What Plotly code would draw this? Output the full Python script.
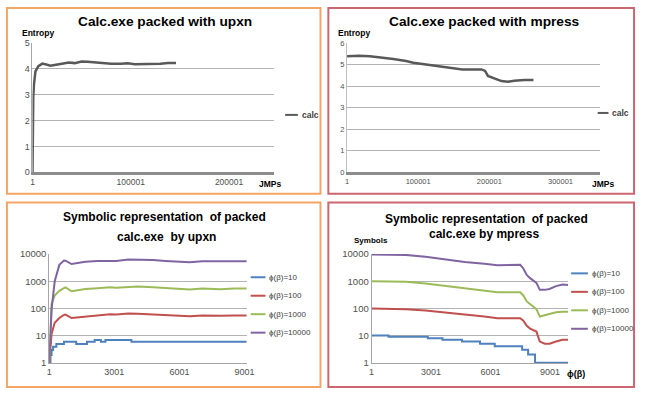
import plotly.graph_objects as go

# ---------------- data ----------------
# Panel 1: Calc.exe packed with upxn (entropy vs JMPs)
upxn_jmp = [1, 300, 800, 1500, 3000, 6000, 10000, 14000, 18000, 24000, 30000, 37000,
            43000, 50000, 56000, 63000, 72000, 80000, 90000, 97000, 104000, 110000,
            120000, 130000, 138000, 146000]
upxn_entropy = [0, 2.0, 2.9, 3.4, 3.9, 4.1, 4.2, 4.17, 4.12, 4.16, 4.2, 4.24,
                4.22, 4.28, 4.27, 4.25, 4.22, 4.2, 4.2, 4.21, 4.18, 4.18,
                4.19, 4.2, 4.22, 4.22]

# Panel 2: Calc.exe packed with mpress
mpress_jmp = [1, 17000, 32000, 46000, 65000, 83000, 93000, 111000, 134000, 162000,
              189000, 194000, 198000, 207000, 217000, 226000, 235000, 249000, 262000]
mpress_entropy = [5.38, 5.4, 5.38, 5.33, 5.26, 5.16, 5.08, 5.0, 4.91, 4.77,
                  4.77, 4.7, 4.47, 4.35, 4.23, 4.2, 4.25, 4.28, 4.28]

# Panel 3: symbolic representation, upxn
sym_up_x = [1, 60, 113, 255, 467, 680, 750, 1033, 1387, 1670, 2236, 2802, 3085,
            3651, 4076, 4783, 5349, 5915, 6481, 7047, 7896, 8533, 9100]
up_phi10000 = [1, 30, 100, 1000, 4000, 5800, 5700, 4300, 4800, 5200, 5600, 5800, 5600,
               6300, 6300, 6000, 5600, 5200, 5000, 5400, 5300, 5500, 5500]
up_phi1000 = [1, 20, 150, 300, 450, 560, 600, 430, 480, 520, 560, 600, 580,
              630, 640, 600, 560, 520, 500, 550, 510, 540, 550]
up_phi100 = [1, 5, 12, 30, 45, 58, 60, 45, 48, 52, 58, 62, 60,
             66, 65, 60, 57, 54, 52, 56, 54, 56, 56]
up10_x = [1, 60, 110, 180, 330, 680, 1245, 1740, 2095, 2380, 2590, 3790, 9100]
up_phi10 = [1, 2, 3, 4, 5, 6, 5, 6, 7, 6, 7, 6, 6]

# Panel 4: symbolic representation, mpress
sym_mp_x = [1, 1730, 2720, 3710, 4700, 5690, 6350, 7500, 7660, 7830, 8000, 8320,
            8490, 8740, 8980, 9310, 9640, 9923]
mp_phi10000 = [9700, 9300, 7900, 6300, 5100, 4400, 3900, 4000, 2950, 1700, 1300, 870,
               480, 480, 520, 660, 760, 720]
mp_phi1000 = [1000, 950, 830, 670, 540, 450, 390, 390, 300, 180, 140, 94,
              50, 55, 60, 72, 75, 75]
mp_phi100 = [98, 92, 83, 72, 60, 50, 43, 43, 35, 23, 18, 14,
             6, 5, 5, 6, 7, 7]
mp10_x = [1, 857, 2835, 3577, 4566, 5473, 6215, 7600, 7900, 8250, 9923]
mp_phi10 = [10, 9, 8, 7, 6, 5, 4, 3, 2, 1, 1]

series_names = ["ϕ(β)=10", "ϕ(β)=100", "ϕ(β)=1000", "ϕ(β)=10000"]
x_ticks_jmp1 = [1, 100001, 200001]
x_ticks_jmp2 = [1, 100001, 200001, 300001]
x_ticks_sym = [1, 3001, 6001, 9001]
y_ticks_sym = [1, 10, 100, 1000, 10000]

# ---------------- styling ----------------
W, H = 645, 396
FONT = "Liberation Sans"
TICK = "#505050"
GRID = "#b3b3b3"
ORANGE = "#F3A565"
RED = "#CC6670"
COLS = ["#4F81BD", "#C0504D", "#9BBB59", "#8064A2"]


def px(x):
    return x / W


def py(y):
    return 1 - y / H


fig = go.Figure()

fig.add_trace(go.Scatter(x=upxn_jmp, y=upxn_entropy, mode="lines", name="calc",
                         line=dict(color="#595959", width=2.5), xaxis="x", yaxis="y",
                         showlegend=False))
fig.add_trace(go.Scatter(x=mpress_jmp, y=mpress_entropy, mode="lines", name="calc",
                         line=dict(color="#595959", width=2.5), xaxis="x2", yaxis="y2",
                         showlegend=False))

up_series = [(up10_x, up_phi10, "hv"), (sym_up_x, up_phi100, "linear"),
             (sym_up_x, up_phi1000, "linear"), (sym_up_x, up_phi10000, "linear")]
for (xs, ys, shp), nm, c in zip(up_series, series_names, COLS):
    fig.add_trace(go.Scatter(x=xs, y=ys, mode="lines", name=nm, line=dict(color=c, width=2, shape=shp),
                             xaxis="x3", yaxis="y3", showlegend=False))
mp_series = [(mp10_x, mp_phi10, "hv"), (sym_mp_x, mp_phi100, "linear"),
             (sym_mp_x, mp_phi1000, "linear"), (sym_mp_x, mp_phi10000, "linear")]
for (xs, ys, shp), nm, c in zip(mp_series, series_names, COLS):
    fig.add_trace(go.Scatter(x=xs, y=ys, mode="lines", name=nm, line=dict(color=c, width=2, shape=shp),
                             xaxis="x4", yaxis="y4", showlegend=False))

tf = dict(family=FONT, size=8.5, color=TICK)

fig.update_layout(
    width=W, height=H, margin=dict(l=0, r=0, t=0, b=0),
    paper_bgcolor="white", plot_bgcolor="white",
    font=dict(family=FONT, color="#000"),
    xaxis=dict(domain=[px(30), px(276)], anchor="y", range=[1, 246001], tickvals=x_ticks_jmp1,
               tickformat="d",
               showgrid=False, zeroline=False, showline=True, linecolor="#8c8c8c", linewidth=3,
               ticks="", tickfont=tf),
    yaxis=dict(domain=[py(171), py(38)], anchor="x", range=[0, 5], dtick=1, gridcolor=GRID,
               zeroline=False, showline=True, linecolor="#a6a6a6", linewidth=1, ticks="",
               tickfont=dict(family=FONT, size=9, color=TICK)),
    xaxis2=dict(domain=[px(350), px(607)], anchor="y2", range=[1, 355000], tickvals=x_ticks_jmp2,
                tickformat="d",
                showgrid=False, zeroline=False, showline=True, linecolor="#8c8c8c", linewidth=3,
                ticks="", tickfont=dict(family=FONT, size=7.5, color=TICK)),
    yaxis2=dict(domain=[py(171), py(38)], anchor="x2", range=[0, 6], dtick=1, gridcolor=GRID,
                zeroline=False, showline=True, linecolor="#bfbfbf", linewidth=1, ticks="",
                tickfont=dict(family=FONT, size=7.5, color=TICK)),
    xaxis3=dict(domain=[px(47), px(248)], anchor="y3", range=[1, 9100], tickvals=x_ticks_sym,
                tickformat="d",
                showgrid=False, zeroline=False, showline=True, linecolor="#a6a6a6", linewidth=1,
                ticks="", tickfont=dict(family=FONT, size=9, color=TICK)),
    yaxis3=dict(domain=[py(367.7), py(255)], anchor="x3", type="log", range=[-0.015, 4.005],
                tickvals=y_ticks_sym, tickformat="d", gridcolor=GRID, zeroline=False, showline=True,
                linecolor="#a6a6a6", linewidth=1, ticks="",
                tickfont=dict(family=FONT, size=9.5, color=TICK)),
    xaxis4=dict(domain=[px(375), px(575)], anchor="y4", range=[1, 9923], tickvals=x_ticks_sym,
                tickformat="d",
                showgrid=False, zeroline=False, showline=True, linecolor="#a6a6a6", linewidth=1,
                ticks="", tickfont=dict(family=FONT, size=9, color=TICK)),
    yaxis4=dict(domain=[py(367.3), py(255)], anchor="x4", type="log", range=[-0.015, 4.005],
                tickvals=y_ticks_sym, tickformat="d", gridcolor=GRID, zeroline=False, showline=True,
                linecolor="#a6a6a6", linewidth=1, ticks="",
                tickfont=dict(family=FONT, size=9.5, color=TICK)),
)

shapes = []
# panel borders
for (x0, y0, x1, y1, c) in [(4, 2, 323, 193, ORANGE), (331, 2, 642, 193, RED),
                            (4, 202, 323, 392, ORANGE), (331, 202, 642, 392, RED)]:
    shapes.append(dict(type="rect", xref="paper", yref="paper", x0=px(x0), x1=px(x1),
                       y0=py(y1), y1=py(y0), line=dict(color=c, width=2)))

annotations = []


def txt(t, x, y, size, bold=False, color="#000", xanchor="center"):
    annotations.append(dict(text=("<b>%s</b>" % t) if bold else t, x=px(x), y=py(y), xref="paper",
                            yref="paper", showarrow=False, xanchor=xanchor, yanchor="middle",
                            font=dict(family=FONT, size=size, color=color)))


# titles
txt("Calc.exe packed with upxn", 165, 16, 13.7, True)
txt("Calc.exe packed with mpress", 490, 16, 13.7, True)
txt("Symbolic representation  of packed", 164, 217, 12, True)
txt("calc.exe  by upxn", 166, 238, 12, True)
txt("Symbolic representation  of packed", 492, 219, 12, True)
txt("calc.exe by mpress", 489, 234, 12, True)

# axis titles
txt("Entropy", 17, 28, 8.5, True, xanchor="left")
txt("Entropy", 339, 28, 8.5, True, xanchor="left")
txt("JMPs", 258, 183, 8.5, True, xanchor="left")
txt("JMPs", 597, 183, 8.5, True, xanchor="left")
txt("Symbols", 355, 241, 8, True, xanchor="left")
txt("ϕ(β)", 572, 378, 9, True, xanchor="left")


# legends (manual, Excel-like short line samples)
def legend_item(x0, x1, y, color, label, size=8):
    shapes.append(dict(type="line", xref="paper", yref="paper", x0=px(x0), x1=px(x1),
                       y0=py(y), y1=py(y), line=dict(color=color, width=2)))
    txt(label, x1 + 2, y, size, False, "#404040", xanchor="left")


legend_item(287, 300, 112, "#595959", "<b>calc</b>", 8.5)
legend_item(605, 616, 110, "#595959", "<b>calc</b>", 8.5)
for i, (nm, c) in enumerate(zip(series_names, COLS)):
    legend_item(252, 267, 279 + 19 * i, c, nm, 8)
    legend_item(578, 595, 275 + 19 * i, c, nm, 8)

fig.update_layout(shapes=shapes, annotations=annotations)
fig.write_html("out.html", config={"displayModeBar": False},
               post_script="document.body.style.margin='0px';")
